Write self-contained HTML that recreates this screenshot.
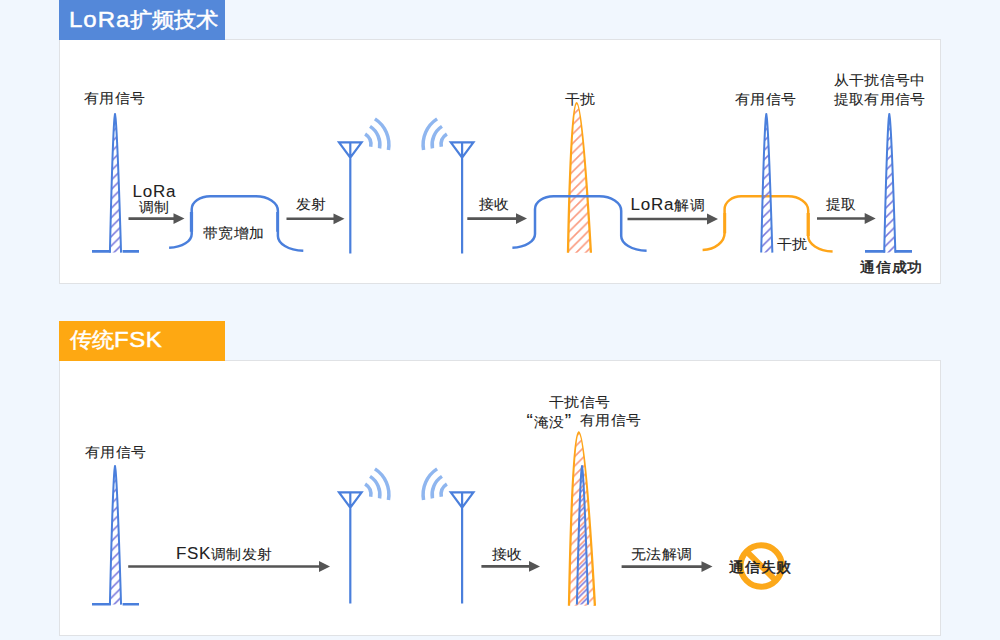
<!DOCTYPE html>
<html><head><meta charset="utf-8">
<style>
html,body{margin:0;padding:0;}
body{width:1000px;height:640px;background:#f1f7fe;position:relative;overflow:hidden;font-family:"Liberation Sans",sans-serif;color:#222;}
.panel{position:absolute;left:59px;width:882px;background:#fff;border:1px solid #e0e2e5;box-sizing:border-box;}
.tab{position:absolute;left:59px;width:166px;height:40px;}
.t{position:absolute;white-space:nowrap;line-height:1;font-size:15px;letter-spacing:0.35px;transform:scaleY(0.94);transform-origin:0 0;-webkit-text-stroke:0.08px #222;}
.tt{-webkit-text-stroke:0.5px #fff !important;color:#fff;font-size:22px;letter-spacing:0;}
.lat{font-size:17px;letter-spacing:0.8px;}
.b{-webkit-text-stroke:0.5px #222 !important;letter-spacing:0.8px;}
svg{position:absolute;left:0;top:0;}
</style></head>
<body>
<div class="panel" style="top:39px;height:245px;"></div>
<div class="panel" style="top:360px;height:276px;"></div>
<div class="tab" style="top:0;background:#5488d9;"></div>
<div class="tab" style="top:321px;background:#fea812;"></div>
<svg width="1000" height="640" viewBox="0 0 1000 640">
<defs><pattern id="hb1" patternUnits="userSpaceOnUse" width="9.4" height="9.4" patternTransform="translate(9.299999999999999,0)"><path d="M-1,1 L1,-1 M0,9.4 L9.4,0 M8.4,10.4 L10.4,8.4" stroke="#7a78dc" stroke-width="1.5"/></pattern><pattern id="hb2" patternUnits="userSpaceOnUse" width="9.4" height="9.4" patternTransform="translate(7.299999999999963,0)"><path d="M-1,1 L1,-1 M0,9.4 L9.4,0 M8.4,10.4 L10.4,8.4" stroke="#7a78dc" stroke-width="1.5"/></pattern><pattern id="ho1" patternUnits="userSpaceOnUse" width="9.4" height="9.4" patternTransform="translate(1.699999999999969,0)"><path d="M-1,1 L1,-1 M0,9.4 L9.4,0 M8.4,10.4 L10.4,8.4" stroke="#fa9a80" stroke-width="1.6"/></pattern><pattern id="ho2" patternUnits="userSpaceOnUse" width="9.4" height="9.4" patternTransform="translate(6.599999999999918,0)"><path d="M-1,1 L1,-1 M0,9.4 L9.4,0 M8.4,10.4 L10.4,8.4" stroke="#fa9a80" stroke-width="1.6"/></pattern>
<g id="spk"><path d="M109.90,252.60 L110.01,247.98 L110.11,243.36 L110.22,238.74 L110.33,234.12 L110.44,229.50 L110.56,224.88 L110.67,220.26 L110.79,215.64 L110.91,211.02 L111.03,206.40 L111.16,201.78 L111.29,197.16 L111.42,192.54 L111.55,187.92 L111.68,183.30 L111.82,178.68 L111.97,174.06 L112.12,169.44 L112.27,164.82 L112.43,160.20 L112.59,155.58 L112.77,150.96 L112.95,146.34 L113.14,141.72 L113.34,137.10 L113.56,132.48 L113.80,127.86 L114.07,123.24 L114.40,118.62 L115.00,114.00 L115.63,118.62 L115.99,123.24 L116.30,127.86 L116.57,132.48 L116.82,137.10 L117.05,141.72 L117.28,146.34 L117.49,150.96 L117.69,155.58 L117.89,160.20 L118.08,164.82 L118.26,169.44 L118.44,174.06 L118.62,178.68 L118.79,183.30 L118.96,187.92 L119.12,192.54 L119.28,197.16 L119.44,201.78 L119.60,206.40 L119.75,211.02 L119.91,215.64 L120.05,220.26 L120.20,224.88 L120.35,229.50 L120.49,234.12 L120.63,238.74 L120.77,243.36 L120.91,247.98 L121.05,252.60" fill="url(#hb1)" stroke="#4a7fdc" stroke-width="2" stroke-linejoin="round"/></g>
<g id="ant"><path d="M339,142.3 L361.6,142.3 L350.3,157.6 Z M350.3,142.3 L350.3,253.5" fill="none" stroke="#4a7fdc" stroke-width="2.2"/></g>
<g id="ant2"><path d="M450.8,142.3 L473.4,142.3 L462.1,157.6 Z M462.1,142.3 L462.1,253.5" fill="none" stroke="#4a7fdc" stroke-width="2.2"/></g>
<g id="waves" fill="none" stroke="#8fb6ef" stroke-width="3.5">
<path d="M365.12,133.95 A12.7,12.7 0 0 1 370.71,146.81"/>
<path d="M370.02,126.40 A21.7,21.7 0 0 1 379.57,148.37"/>
<path d="M374.92,118.85 A30.7,30.7 0 0 1 388.43,149.93"/>
</g>
</defs>
<use href="#spk"/>
<path d="M92,251.45 H110.9 M122.6,251.45 H139" stroke="#4a7fdc" stroke-width="2.7"/>
<path d="M128.5,218.6 H174.5" stroke="#555" stroke-width="2.6"/><path d="M173.5,213.2 L184.5,218.6 L173.5,224.0 Z" fill="#555"/>
<path d="M286.5,218.8 H334.5" stroke="#555" stroke-width="2.6"/><path d="M333.5,213.4 L344.5,218.8 L333.5,224.20000000000002 Z" fill="#555"/>
<path d="M467.3,218.6 H517" stroke="#555" stroke-width="2.6"/><path d="M516,213.2 L527,218.6 L516,224.0 Z" fill="#555"/>
<path d="M627.5,219 H708" stroke="#555" stroke-width="2.6"/><path d="M707,213.6 L718,219 L707,224.4 Z" fill="#555"/>
<path d="M817,218.5 H865.7" stroke="#555" stroke-width="2.6"/><path d="M864.7,213.1 L875.7,218.5 L864.7,223.9 Z" fill="#555"/>
<g fill="none" stroke="#4a7fdc" stroke-width="2.5"><path d="M169.1,247.8 C182.66,247.30 191.7,240.90 191.7,234 L191.7,209.20 C191.7,202.05 200.02,196.2 210.20,196.2 L255.90,196.2 C268.00,196.2 277.9,202.77 277.9,210.80 L277.9,236 C277.9,243.40 288.06,250.30 303.3,250.8"/></g><path d="M189.85,212.1 H193.1 V231.8 H189.85 Z M276.2,212.1 H278.95 V231.8 H276.2 Z" fill="#4a7fdc"/>
<use href="#ant"/><use href="#waves"/><g transform="translate(812,0) scale(-1,1)"><use href="#waves"/></g><use href="#ant2"/>
<path d="M568,252.8 Q573.75,-46.4 590.9,252.8" fill="url(#ho1)" stroke="#fea519" stroke-width="2.3"/>
<path d="M512.4,247.8 C525.96,247.30 535,240.90 535,234 L535,209.20 C535,202.05 543.33,196.2 553.50,196.2 L599.20,196.2 C611.30,196.2 621.2,202.77 621.2,210.80 L621.2,236 C621.2,243.40 631.36,250.30 646.6,250.8" fill="none" stroke="#4a7fdc" stroke-width="2.5"/>
<path d="M702.6,250 C715.80,249.50 724.6,241.50 724.6,233 L724.6,209.30 C724.6,202.15 732.02,196.3 741.10,196.3 L788.20,196.3 C799.20,196.3 808.2,202.60 808.2,210.30 L808.2,236 C808.2,243.75 817.96,251.00 832.6,251.5" fill="none" stroke="#fea519" stroke-width="2.5"/><path d="M723.4,212.9 H726.2 V233.2 H723.4 Z M806.6,212.9 H809.8 V236 H806.6 Z" fill="#fea519"/>
<use href="#spk" transform="translate(651.3,0)"/>
<use href="#spk" transform="translate(774.3,0)"/>
<path d="M865,251.45 H885.2 M894.8,251.45 H912" stroke="#4a7fdc" stroke-width="2.7"/>
<use href="#spk" transform="translate(0,352)"/>
<path d="M92,604.25 H110.9 M122.6,604.25 H139" stroke="#4a7fdc" stroke-width="2.7"/>
<path d="M128.2,566.5 H320" stroke="#555" stroke-width="2.6"/><path d="M319,561.1 L330,566.5 L319,571.9 Z" fill="#555"/>
<path d="M481.4,566.4 H530" stroke="#555" stroke-width="2.6"/><path d="M529,561.0 L540,566.4 L529,571.8 Z" fill="#555"/>
<path d="M621.6,566.6 H702.5" stroke="#555" stroke-width="2.6"/><path d="M701.5,561.2 L712.5,566.6 L701.5,572.0 Z" fill="#555"/>
<g transform="translate(0,350)"><use href="#ant"/><use href="#waves"/><g transform="translate(812,0) scale(-1,1)"><use href="#waves"/></g><use href="#ant2"/></g>
<path d="M569,605.8 Q575.55,259.2 594.9,605.8" fill="url(#ho2)" stroke="#fea519" stroke-width="2.3"/>
<use href="#spk" transform="translate(467,352)"/>
<circle cx="761.2" cy="566" r="20.7" fill="none" stroke="#fca81a" stroke-width="6"/>
<path d="M746.5,551.3 L775.9,580.7" stroke="#fca81a" stroke-width="6"/>
</svg>
<div class="t tt" style="left:69px;top:8px;"><span style="font-size:24px;letter-spacing:1px">LoRa</span>扩频技术</div>
<div class="t tt" style="left:70px;top:328px;">传统<span style="font-size:24px;letter-spacing:0.5px">FSK</span></div>
<div class="t" style="left:84px;top:91px;">有用信号</div>
<div class="t" style="left:132.5px;top:184px;"><span class="lat">LoRa</span></div>
<div class="t" style="left:139px;top:200px;">调制</div>
<div class="t" style="left:203px;top:226px;">带宽增加</div>
<div class="t" style="left:295.5px;top:196.5px;">发射</div>
<div class="t" style="left:479px;top:197px;">接收</div>
<div class="t" style="left:565px;top:92px;">干扰</div>
<div class="t" style="left:630.5px;top:197px;"><span class="lat">LoRa</span>解调</div>
<div class="t" style="left:735px;top:92px;">有用信号</div>
<div class="t" style="left:833.5px;top:73px;">从干扰信号中</div>
<div class="t" style="left:833.5px;top:92px;">提取有用信号</div>
<div class="t" style="left:826px;top:197px;">提取</div>
<div class="t" style="left:777px;top:237px;">干扰</div>
<div class="t b" style="left:860px;top:260px;">通信成功</div>
<div class="t" style="left:85px;top:445px;">有用信号</div>
<div class="t" style="left:176px;top:546px;"><span class="lat" style="letter-spacing:0.6px">FSK</span>调制发射</div>
<div class="t" style="left:492px;top:547px;">接收</div>
<div class="t" style="left:549px;top:395px;">干扰信号</div>
<div class="t" style="left:526.5px;top:412px;"><span style="font-size:19px;margin-right:0.8px">“</span>淹没<span style="font-size:19px;margin-left:0px">”</span></div>
<div class="t" style="left:580px;top:413px;">有用信号</div>
<div class="t" style="left:631px;top:547px;">无法解调</div>
<div class="t b" style="left:729px;top:560px;">通信失败</div>

</body></html>
